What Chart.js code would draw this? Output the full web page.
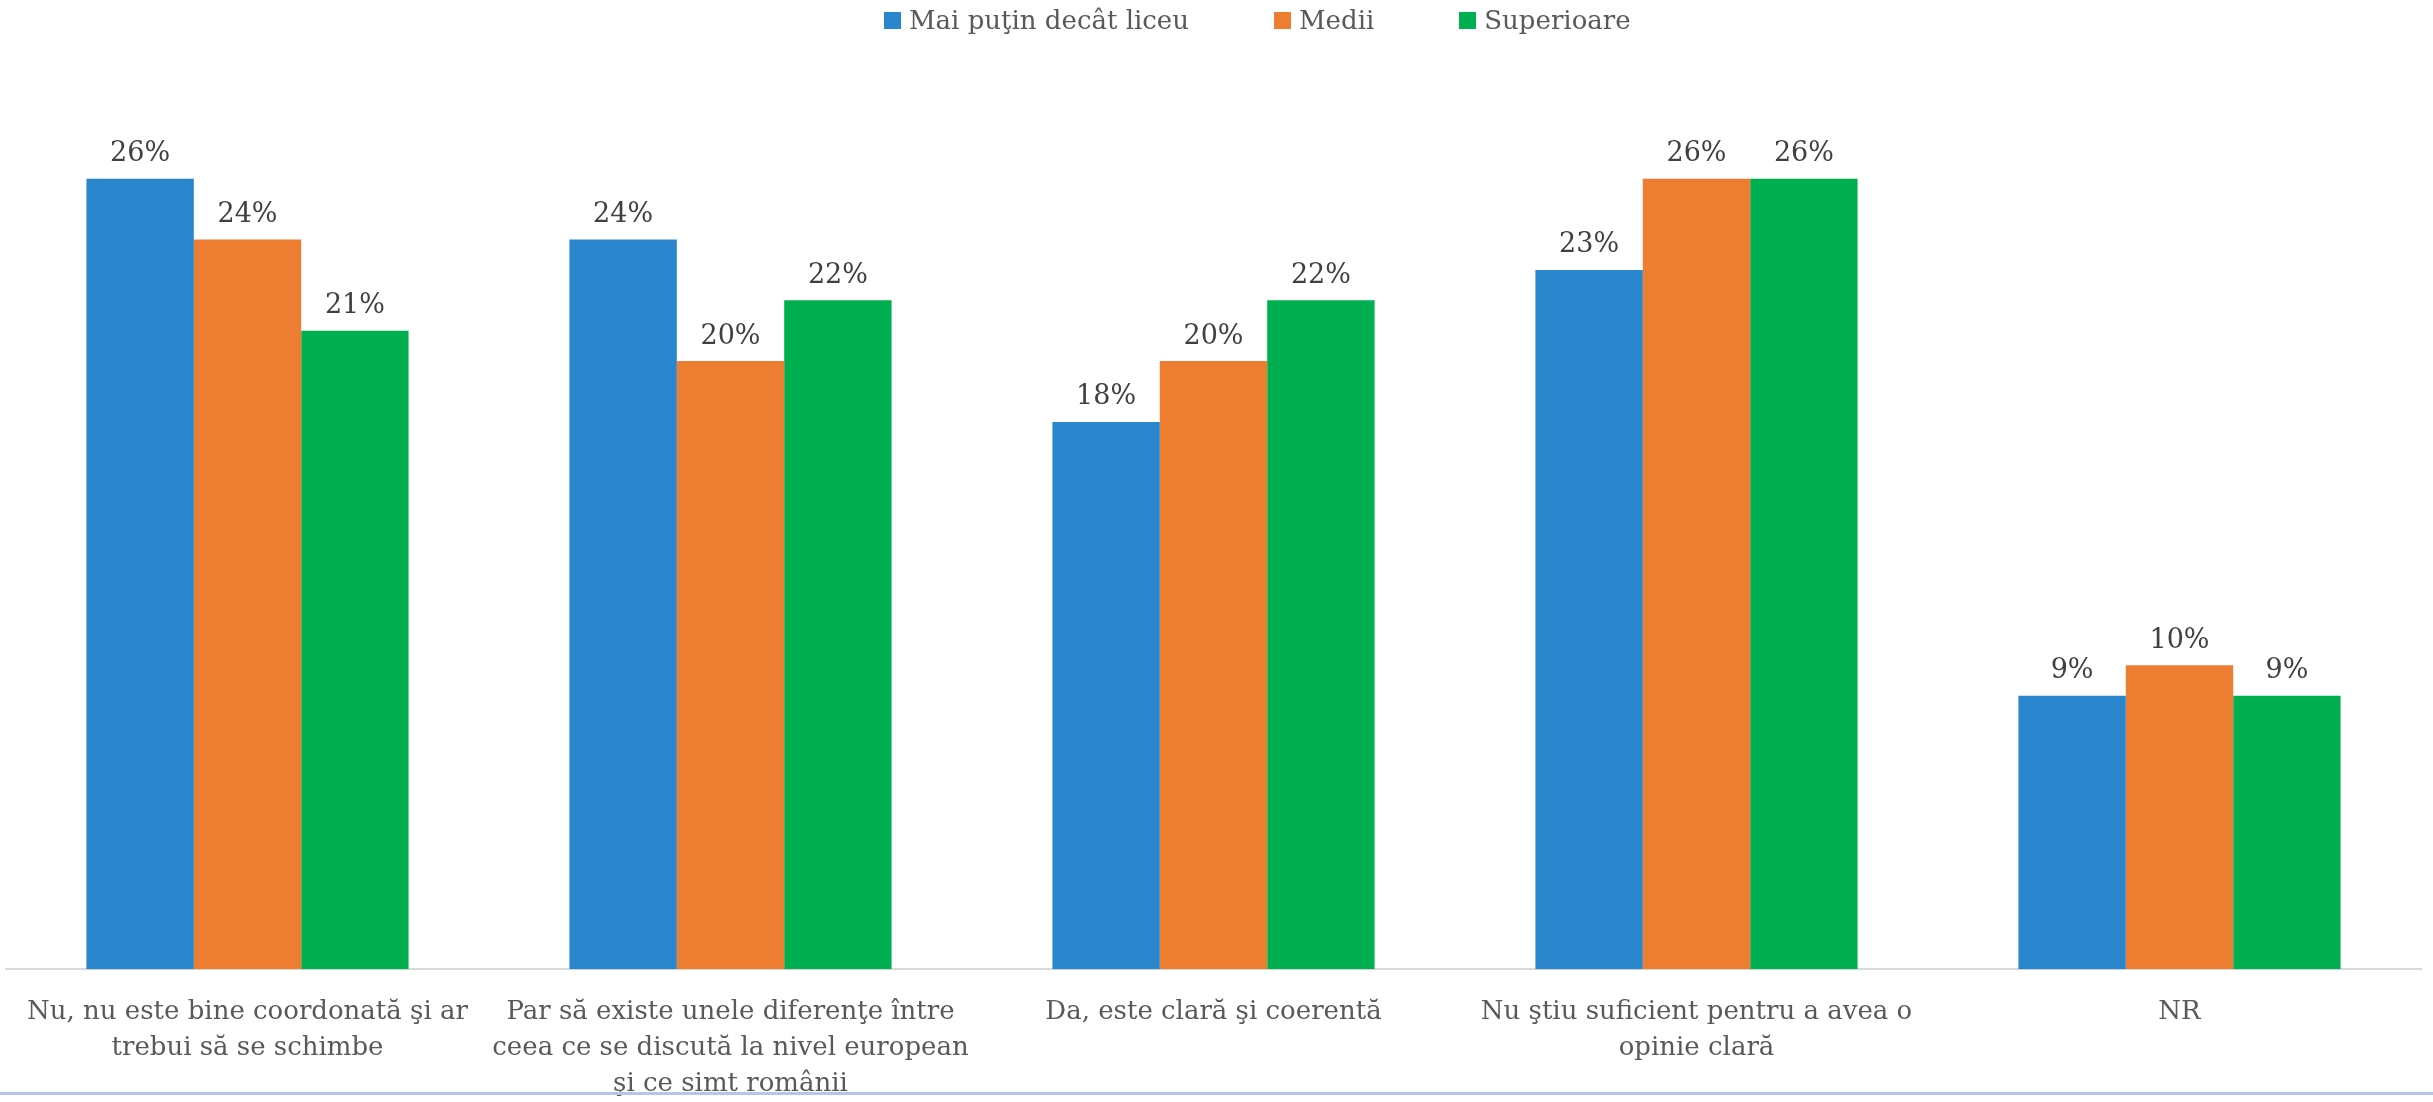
<!DOCTYPE html>
<html>
<head>
<meta charset="utf-8">
<script src="https://cdn.jsdelivr.net/npm/chart.js@4/dist/chart.umd.min.js"></script>
<style>
  html, body { margin: 0; padding: 0; background: #ffffff; }
  #wrap { position: relative; width: 2433px; height: 1102px; overflow: hidden; }
  #c { display: block; }
  #bottomLine { position: absolute; left: 0; top: 1092px; width: 2433px; height: 3px; background: #b4c7e7; }
  #legend { position: absolute; left: 884px; top: 0; height: 40px; display: flex; align-items: center; gap: 85px;
            font-family: 'DejaVu Serif', 'Liberation Serif', serif; font-size: 26px; color: #595959; white-space: nowrap; }
  .item { display: flex; align-items: center; }
  .box { width: 17px; height: 17px; margin-right: 8px; }
</style>
</head>
<body>
<div id="wrap">
  <canvas id="c" width="2433" height="1102" style="width:2433px;height:1102px"></canvas>
  <div id="legend"></div>
  <div id="bottomLine"></div>
</div>
<script>
const categories = [
  ["Nu, nu este bine coordonată şi ar", "trebui să se schimbe"],
  ["Par să existe unele diferenţe între", "ceea ce se discută la nivel european", "şi ce simt românii"],
  ["Da, este clară şi coerentă"],
  ["Nu ştiu suficient pentru a avea o", "opinie clară"],
  ["NR"]
];
const seriesNames = ["Mai puţin decât liceu", "Medii", "Superioare"];
const lessThanHighSchool = [26, 24, 18, 23, 9];
const medium = [24, 20, 20, 26, 10];
const higher = [21, 22, 22, 26, 9];
const seriesColors = ["#2986CC", "#ED7D31", "#00B050"];

const FONT = "'DejaVu Serif', 'Liberation Serif', serif";

const valueLabels = {
  id: 'valueLabels',
  afterDatasetsDraw(chart) {
    const ctx = chart.ctx;
    ctx.save();
    ctx.font = "27px " + FONT;
    ctx.fillStyle = "#404040";
    ctx.textAlign = "center";
    ctx.textBaseline = "bottom";
    chart.data.datasets.forEach((ds, i) => {
      const meta = chart.getDatasetMeta(i);
      meta.data.forEach((bar, j) => {
        ctx.fillText(ds.data[j] + "%", bar.x, bar.y - 11);
      });
    });
    ctx.restore();
  }
};

const chart = new Chart(document.getElementById('c'), {
  type: 'bar',
  data: {
    labels: categories,
    datasets: [
      { label: seriesNames[0], data: lessThanHighSchool, backgroundColor: seriesColors[0] },
      { label: seriesNames[1], data: medium, backgroundColor: seriesColors[1] },
      { label: seriesNames[2], data: higher, backgroundColor: seriesColors[2] }
    ]
  },
  options: {
    responsive: false,
    animation: false,
    devicePixelRatio: 1,
    layout: { padding: { left: 6, right: 12, top: 57, bottom: -17 } },
    datasets: {
      bar: { categoryPercentage: 0.667, barPercentage: 1.0, borderWidth: 0 }
    },
    plugins: {
      legend: { display: false },
      tooltip: { enabled: false }
    },
    scales: {
      x: {
        grid: { display: false },
        border: { display: true, color: "#d9d9d9", width: 2 },
        ticks: {
          font: { family: FONT, size: 26, lineHeight: 1.38 },
          color: "#595959",
          maxRotation: 0,
          autoSkip: false,
          padding: 17
        }
      },
      y: {
        display: false,
        min: 0,
        max: 30
      }
    }
  },
  plugins: [valueLabels]
});

// HTML legend built from the chart's datasets
const legendEl = document.getElementById('legend');
chart.data.datasets.forEach(ds => {
  const item = document.createElement('div');
  item.className = 'item';
  const box = document.createElement('span');
  box.className = 'box';
  box.style.background = ds.backgroundColor;
  const txt = document.createElement('span');
  txt.textContent = ds.label;
  item.appendChild(box);
  item.appendChild(txt);
  legendEl.appendChild(item);
});
</script>
</body>
</html>
